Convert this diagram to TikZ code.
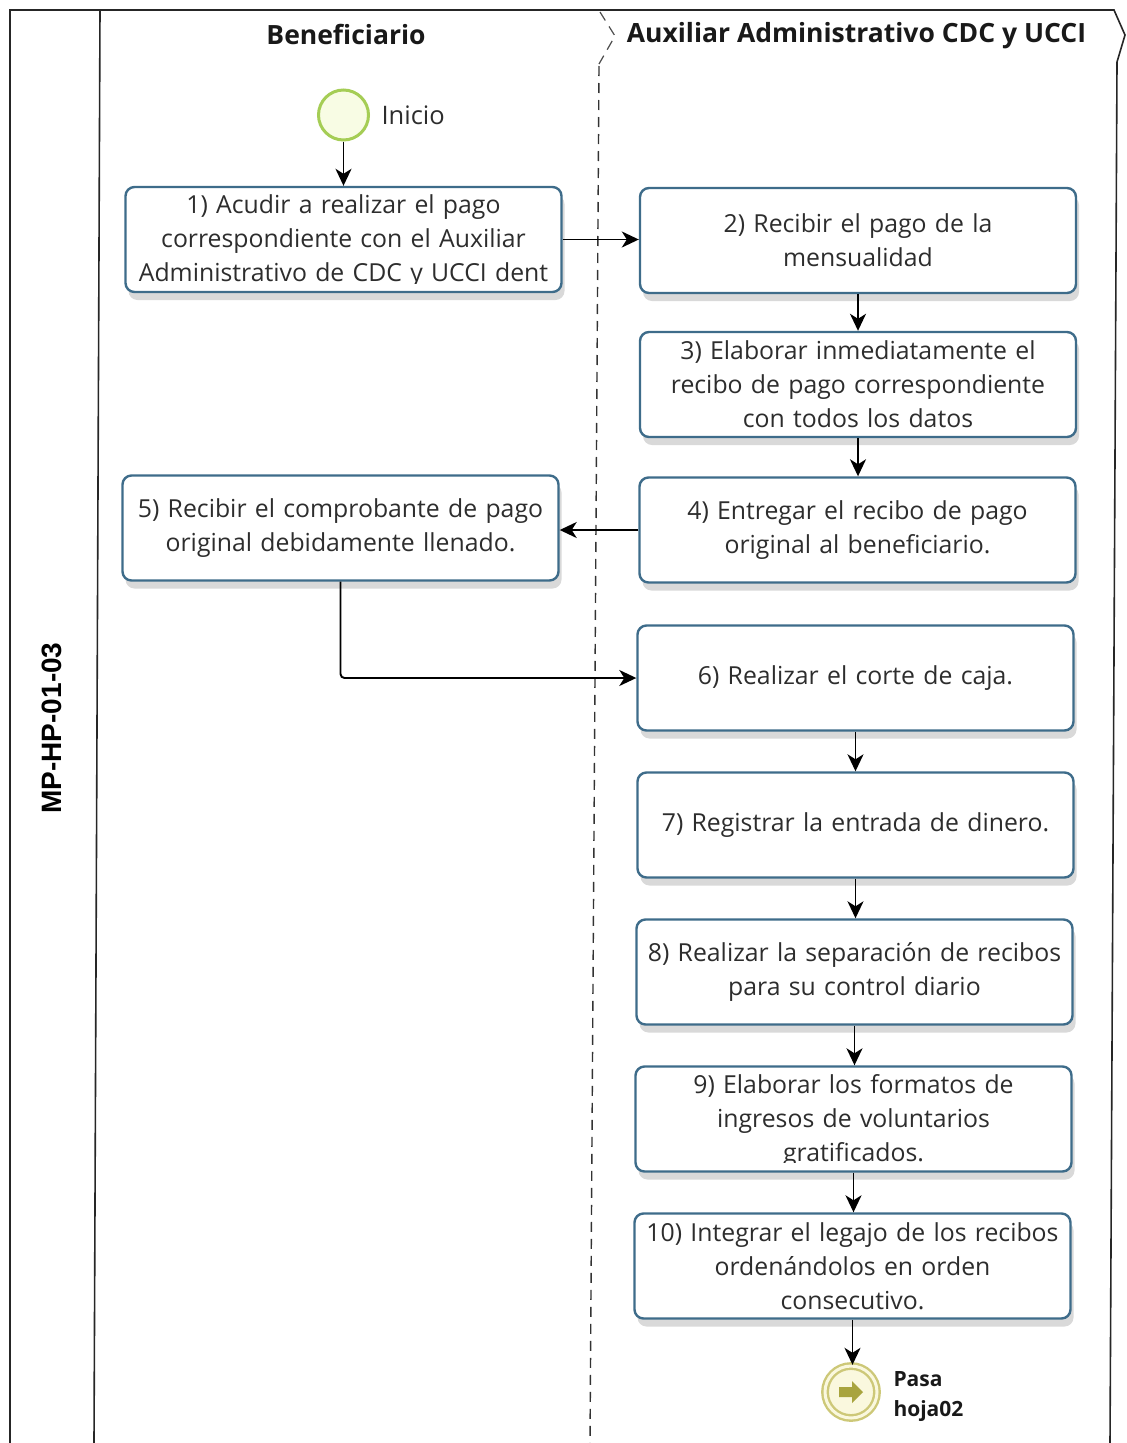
\documentclass[tikz,border=0pt]{standalone}
\usepackage{fontspec}
\setmainfont{Open Sans}
\newfontfamily\labelfont{Liberation Sans}
\usetikzlibrary{arrows.meta,shadows}

\definecolor{boxblue}{RGB}{62,108,138}
\definecolor{textgray}{RGB}{45,45,45}
\definecolor{startring}{RGB}{165,205,85}
\definecolor{startfill}{RGB}{248,252,228}
\definecolor{endring}{RGB}{205,200,120}
\definecolor{endfill}{RGB}{250,248,222}
\definecolor{endarrow}{RGB}{168,164,62}

\begin{document}
\begin{tikzpicture}[x=1pt,y=-1pt,
  stepbox/.style={draw=boxblue, line width=2.4pt, rounded corners=9pt, fill=white,
    minimum width=436pt, minimum height=105pt, text width=430pt, align=center,
    inner sep=0pt, text=textgray, font=\fontsize{24.8}{34}\selectfont,
    drop shadow={shadow xshift=3pt, shadow yshift=-8pt, opacity=0.25, fill=black!60}},
  boxtext/.style={text width=430pt, align=center, inner sep=0pt, text=textgray,
    font=\fontsize{24.8}{34}\selectfont},
  flow/.style={-{Stealth[length=17pt,width=16pt,inset=5pt]}, line width=1.9pt, black},
  frame/.style={line width=1.6pt, black!85},
  lanedash/.style={line width=1.4pt, black!80, dash pattern=on 10pt off 7pt},
  header/.style={font=\bfseries\fontsize{26.5}{30}\selectfont, text=black!90}
]
\useasboundingbox (0,0) rectangle (1127,1443);

% pool frame and lanes
\draw[frame] (10,1443) -- (10,10) -- (1114,10) -- (1125,35) -- (1117,62) -- (1110,1443);
\draw[frame] (100,10) -- (94,1443);
\draw[lanedash, black!70, line width=1.2pt] (600,12) -- (615,36) -- (599,64);
\draw[lanedash] (599,66) -- (590,1443);

% pool and lane titles
\node[font=\labelfont\bfseries\fontsize{28}{30}\selectfont, rotate=90] (pool) at (52,728) {MP-HP-01-03};
\node[header] (lane1) at (346,34) {Beneficiario};
\node[header] (lane2) at (856.5,36) {Auxiliar Administrativo CDC y UCCI};

% start event
\node[circle, draw=startring, line width=3pt, fill=startfill, minimum size=50pt, inner sep=0pt] (start) at (343.5,115) {};
\node[anchor=west, font=\fontsize{25.5}{28}\selectfont, text=textgray] (inicio) at (378,115) {Inicio};

% activities (text of boxes 1 and 9 is cut at the bottom of its text area)
\node[stepbox] (b1) at (343.5,239.5) {};
\begin{scope}
  \clip ([xshift=12pt, yshift=10pt]b1.south west) rectangle ([xshift=-12pt]b1.north east);
  \node[boxtext] (t1) at ([yshift=-2pt]b1.center) {1) Acudir a realizar el pago\\correspondiente con el Auxiliar\\Administrativo de CDC y UCCI dent};
\end{scope}
\node[stepbox] (b2) at (858,240.5) {2) Recibir el pago de la\\mensualidad};
\node[stepbox] (b3) at (858,384.5) {3) Elaborar inmediatamente el\\recibo de pago correspondiente\\con todos los datos};
\node[stepbox] (b4) at (857.5,530) {4) Entregar el recibo de pago\\original al beneficiario.};
\node[stepbox] (b5) at (340.5,528) {5) Recibir el comprobante de pago\\original debidamente llenado.};
\node[stepbox] (b6) at (855.5,678) {6) Realizar el corte de caja.};
\node[stepbox] (b7) at (855.5,825) {7) Registrar la entrada de dinero.};
\node[stepbox] (b8) at (854.5,972) {8) Realizar la separación de recibos\\para su control diario};
\node[stepbox] (b9) at (853.5,1119) {};
\begin{scope}
  \clip ([xshift=12pt, yshift=10pt]b9.south west) rectangle ([xshift=-12pt]b9.north east);
  \node[boxtext] (t9) at ([yshift=-2pt]b9.center) {9) Elaborar los formatos de\\ingresos de voluntarios\\gratificados.};
\end{scope}
\node[stepbox] (b10) at (852.5,1266) {10) Integrar el legajo de los recibos\\ordenándolos en orden\\consecutivo.};

% end (link) event
\node[circle, draw=endring, line width=2.4pt, double=endfill, double distance=3pt,
      fill=endfill, minimum size=52pt, inner sep=0pt] (endev) at (851,1392) {};
\fill[endarrow] ([xshift=-12pt,yshift=-5pt]endev.center) -- ++(13pt,0) -- ++(0,-6pt)
  -- ++(11pt,11pt) -- ++(-11pt,11pt) -- ++(0,-6pt) -- ++(-13pt,0) -- cycle;
\node[anchor=west, align=left, font=\bfseries\fontsize{21}{30}\selectfont, text=black!90] (pasa) at (890,1397) {Pasa\\hoja02};

% sequence flows
\draw[flow] (start) -- (b1);
\draw[flow] (b1.east) -- (b1.east -| b2.west);
\draw[flow] (b2.south) -- (b2.south |- b3.north);
\draw[flow] (b3.south) -- (b3.south |- b4.north);
\draw[flow] (b4.west) -- (b4.west -| b5.east);
\draw[flow, rounded corners=4pt] (b5.south) |- (b6.west);
\draw[flow] (b6.south) -- (b6.south |- b7.north);
\draw[flow] (b7.south) -- (b7.south |- b8.north);
\draw[flow] (b8.south) -- (b8.south |- b9.north);
\draw[flow] (b9.south) -- (b9.south |- b10.north);
\draw[flow] (b10.south) -- (b10.south |- endev.north);
\end{tikzpicture}
\end{document}
